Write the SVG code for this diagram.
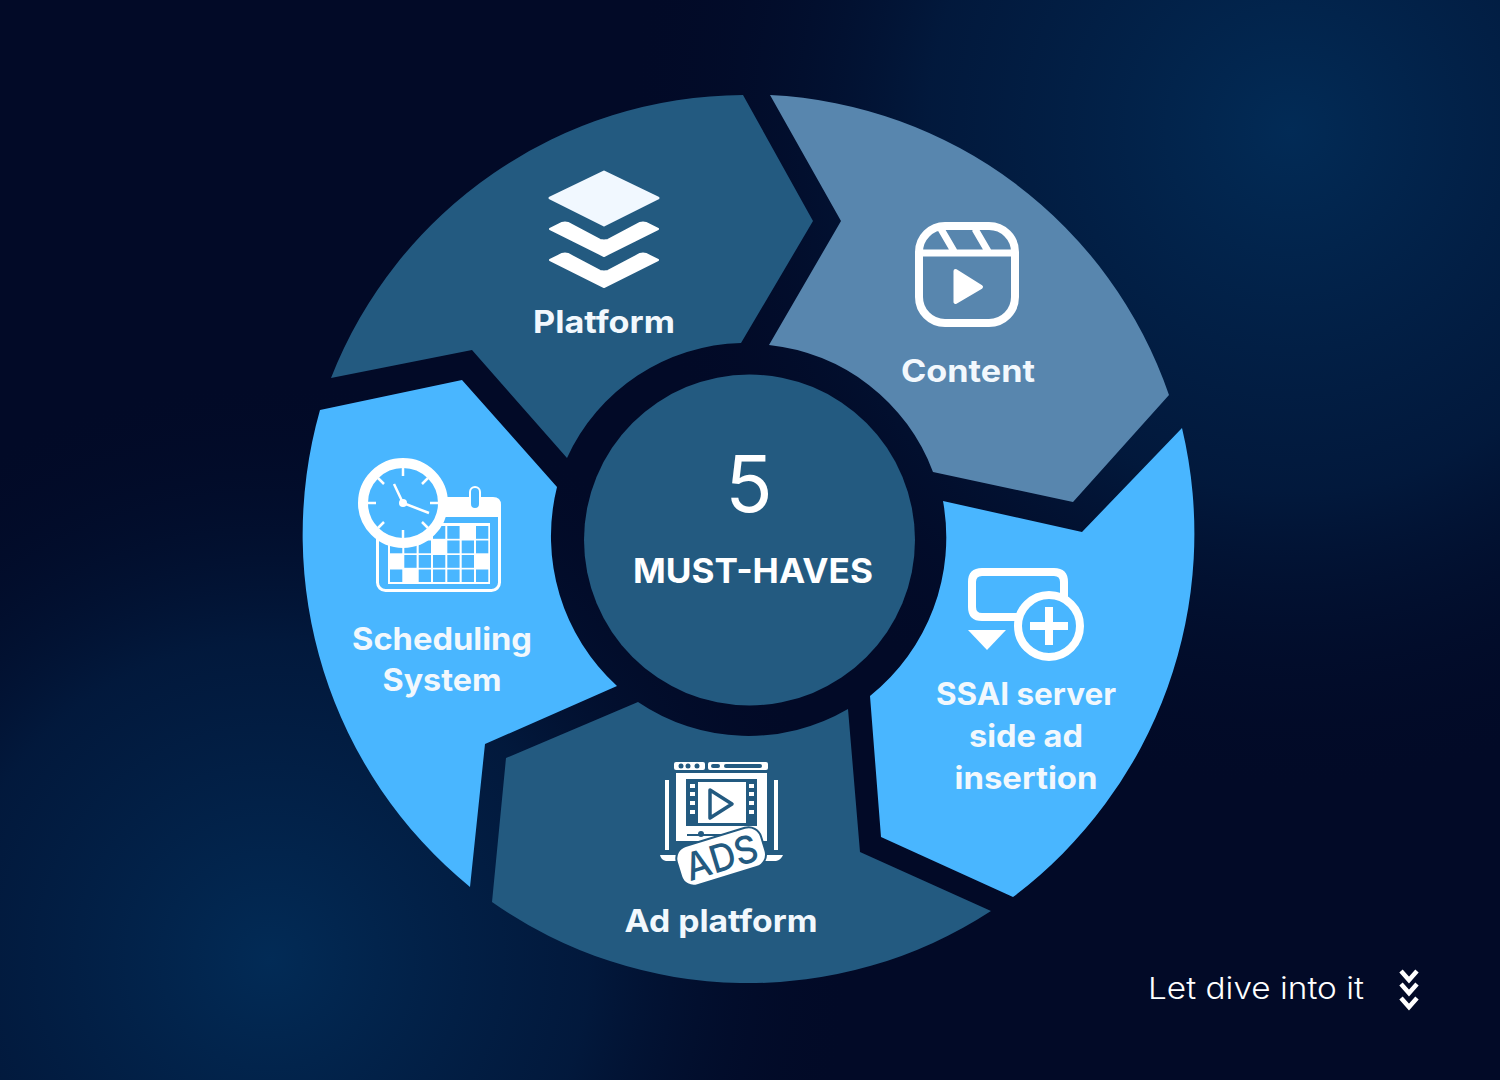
<svg xmlns="http://www.w3.org/2000/svg" width="1500" height="1080" viewBox="0 0 1500 1080">
<defs>
<radialGradient id="g1" gradientUnits="userSpaceOnUse" cx="1290" cy="130" r="660"><stop offset="0" stop-color="#022b56"/><stop offset="0.55" stop-color="#021f45" stop-opacity="0.7"/><stop offset="1" stop-color="#020b28" stop-opacity="0"/></radialGradient>
<radialGradient id="g2" gradientUnits="userSpaceOnUse" cx="270" cy="960" r="580"><stop offset="0" stop-color="#022b56"/><stop offset="0.55" stop-color="#021f45" stop-opacity="0.7"/><stop offset="1" stop-color="#020b28" stop-opacity="0"/></radialGradient>
</defs>
<style>
.lbl{font-family:"Inter","Liberation Sans",sans-serif;font-weight:700;font-size:31px;fill:#f2f8fd;text-anchor:middle}
.mid{fill:#235a80}.lite{fill:#5886ae}.sky{fill:#49b6ff}
.w{fill:#fff}.ws{fill:none;stroke:#fff}
.bl{fill:#49b6ff}.m{fill:#235a80}.ms{fill:none;stroke:#235a80}
</style>
<rect width="1500" height="1080" fill="#020a27"/>
<rect width="1500" height="1080" fill="url(#g1)"/>
<rect width="1500" height="1080" fill="url(#g2)"/>

<g id="node-platform">
<path class="mid" d="M743 95A445 445 0 0 0 331 378L472 350L567 458A197 197 0 0 1 741 343L813 221Z"/>
<path fill="#f1f8ff" stroke="#f1f8ff" stroke-width="3" stroke-linejoin="round" d="M604 172L658 198L604 225L550 198Z"/>
<path class="w" stroke="#fff" stroke-width="2" stroke-linejoin="round" d="M550 229L562 223Q565 222 568 223L600 240Q604 241 608 240L640 223Q643 222 646 223L658 229L604 256Z"/>
<path class="w" stroke="#fff" stroke-width="2" stroke-linejoin="round" d="M550 260L562 254Q565 253 568 254L600 271Q604 272 608 271L640 254Q643 253 646 254L658 260L604 287Z"/>
<text class="lbl" x="604" y="333" textLength="142" lengthAdjust="spacingAndGlyphs">Platform</text>
</g>

<g id="node-content">
<path class="lite" d="M770 95A445 445 0 0 1 1169 395L1073 502L933 472A197 197 0 0 0 769 345L841 221Z"/>
<rect class="ws" x="919" y="226" width="96" height="97" rx="26" stroke-width="8"/>
<path class="ws" stroke-width="7" d="M919 253H1015M941 229L955 253M975 229L989 253"/>
<path class="w" stroke="#fff" stroke-width="4" stroke-linejoin="round" d="M955.500 271L981 287L955.500 302Z"/>
<text class="lbl" x="968" y="382" textLength="134" lengthAdjust="spacingAndGlyphs">Content</text>
</g>

<g id="node-ssai">
<path class="sky" d="M1182 428A455 455 0 0 1 1013 897L881 837L870 696A203 203 0 0 0 943 501L1082 532Z"/>
<path class="ws" stroke-width="8" d="M1020 617H982Q972 617 972 607V582Q972 572 982 572H1054Q1064 572 1064 582V600"/>
<path class="w" d="M968 630H1006L987 650Z"/>
<circle cx="1049" cy="626" r="31" class="ws" stroke-width="8"/>
<path class="ws" stroke-width="8" d="M1049 607V645M1030 626H1068"/>
<text class="lbl" x="1026" y="705" textLength="180" lengthAdjust="spacingAndGlyphs">SSAI server</text>
<text class="lbl" x="1026" y="747" textLength="114" lengthAdjust="spacingAndGlyphs">side ad</text>
<text class="lbl" x="1026" y="789" textLength="143" lengthAdjust="spacingAndGlyphs">insertion</text>
</g>

<g id="node-ad-platform">
<path class="mid" d="M991 911A445 445 0 0 1 492 902L506 758L638 702A197 197 0 0 0 848 709L860 852Z"/>
<rect class="w" x="674" y="762" width="31" height="8" rx="2"/>
<rect class="w" x="708" y="762" width="60" height="8" rx="2"/>
<circle class="m" cx="681" cy="766" r="2.500"/><circle class="m" cx="688" cy="766" r="2.500"/><circle class="m" cx="697" cy="766" r="2.500"/>
<rect class="m" x="711" y="764" width="9" height="4" rx="2"/><rect class="m" x="724" y="764" width="38" height="4" rx="2"/>
<rect class="w" x="676" y="773" width="91" height="68"/>
<rect class="ms" x="687.500" y="780.500" width="68" height="44" stroke-width="3"/>
<rect class="m" x="687" y="780" width="11" height="45"/><rect class="m" x="746" y="780" width="11" height="45"/>
<g class="w"><rect x="690" y="784" width="5" height="4"/><rect x="690" y="792" width="5" height="4"/><rect x="690" y="801" width="5" height="4"/><rect x="690" y="810" width="5" height="4"/><rect x="749" y="784" width="5" height="4"/><rect x="749" y="792" width="5" height="4"/><rect x="749" y="801" width="5" height="4"/><rect x="749" y="810" width="5" height="4"/></g>
<path class="ms" stroke-width="3.500" stroke-linejoin="round" d="M710 790L732 804L710 818Z"/>
<path class="ms" stroke-width="2" d="M687 835H740"/><circle class="m" cx="701" cy="834" r="3"/>
<path class="ws" stroke-width="4" d="M667 780V850M776 780V850"/>
<path class="w" d="M660 855H680L684 861H666Q661 860 660 855ZM783 855H762L758 861H776Q781 860 783 855Z"/>
<g transform="rotate(-17 721 856)">
<rect class="w" x="677" y="836" width="88" height="41" rx="13" stroke="#235a80" stroke-width="2"/>
<text x="721" y="871" text-anchor="middle" font-family="'Inter','Liberation Sans',sans-serif" font-size="38" font-weight="500" fill="#235a80" textLength="74" lengthAdjust="spacingAndGlyphs">ADS</text>
</g>
<text class="lbl" x="721" y="932" textLength="193" lengthAdjust="spacingAndGlyphs">Ad platform</text>
</g>

<g id="node-scheduling">
<path class="sky" d="M470 887A455 455 0 0 1 320 410L462 380L557 487A203 203 0 0 0 617 686L485 744Z"/>
<rect class="ws" x="377.500" y="500" width="122" height="90.500" rx="8" stroke-width="3"/>
<path class="w" d="M376 517V505Q376 497 384 497H493Q501 497 501 505V517Z"/>
<rect class="w" x="388" y="523" width="102" height="61"/>
<rect x="470" y="487" width="10" height="22" rx="5" fill="#49b6ff" stroke="#fff" stroke-width="2"/>
<g class="bl">
<rect x="433" y="526" width="12.300" height="12.800"/><rect x="447.300" y="526" width="12.300" height="12.800"/><rect x="476" y="526" width="12.300" height="12.800"/>
<rect x="390" y="540.500" width="12.300" height="12.800"/><rect x="404.300" y="540.500" width="12.300" height="12.800"/><rect x="418.700" y="540.500" width="12.300" height="12.800"/><rect x="447.300" y="540.500" width="12.300" height="12.800"/><rect x="461.700" y="540.500" width="12.300" height="12.800"/><rect x="476" y="540.500" width="12.300" height="12.800"/>
<rect x="404.300" y="555" width="12.300" height="12.800"/><rect x="418.700" y="555" width="12.300" height="12.800"/><rect x="433" y="555" width="12.300" height="12.800"/><rect x="447.300" y="555" width="12.300" height="12.800"/><rect x="461.700" y="555" width="12.300" height="12.800"/>
<rect x="390" y="569.500" width="12.300" height="12.500"/><rect x="418.700" y="569.500" width="12.300" height="12.500"/><rect x="433" y="569.500" width="12.300" height="12.500"/><rect x="447.300" y="569.500" width="12.300" height="12.500"/><rect x="461.700" y="569.500" width="12.300" height="12.500"/><rect x="476" y="569.500" width="12.300" height="12.500"/>
</g>
<circle cx="403" cy="503" r="40" fill="#49b6ff" stroke="#fff" stroke-width="10"/>
<path class="ws" stroke-width="2.500" d="M403 467V476M403 530V539M367 503H376M430 503H439M378 478L384 484M428 478L422 484M378 528L384 522M428 528L422 522"/>
<path class="ws" stroke-width="2.500" d="M394 484L403 503L429 513"/>
<circle class="w" cx="403" cy="503" r="4"/>
<text class="lbl" x="442" y="650" textLength="180" lengthAdjust="spacingAndGlyphs">Scheduling</text>
<text class="lbl" x="442" y="691" textLength="119" lengthAdjust="spacingAndGlyphs">System</text>
</g>

<g id="node-center">
<circle cx="749.500" cy="540" r="165.500" fill="#235a80"/>
<text x="749" y="512" text-anchor="middle" font-family="'Inter','Liberation Sans',sans-serif" font-size="78" font-weight="400" fill="#fff">5</text>
<text x="753" y="583" text-anchor="middle" font-family="'Inter','Liberation Sans',sans-serif" font-size="34" font-weight="700" fill="#fff" textLength="240" lengthAdjust="spacingAndGlyphs">MUST-HAVES</text>
</g>

<g id="footer">
<text x="1148" y="999" font-family="'Inter','Liberation Sans',sans-serif" font-size="30" font-weight="300" fill="#fff" textLength="216" lengthAdjust="spacingAndGlyphs">Let dive into it</text>
<path class="ws" stroke-width="4.500" d="M1401 971L1409 980L1417 971M1401 984L1409 993L1417 984M1401 998L1409 1007L1417 998"/>
</g>
<g id="connectors"/>
</svg>
